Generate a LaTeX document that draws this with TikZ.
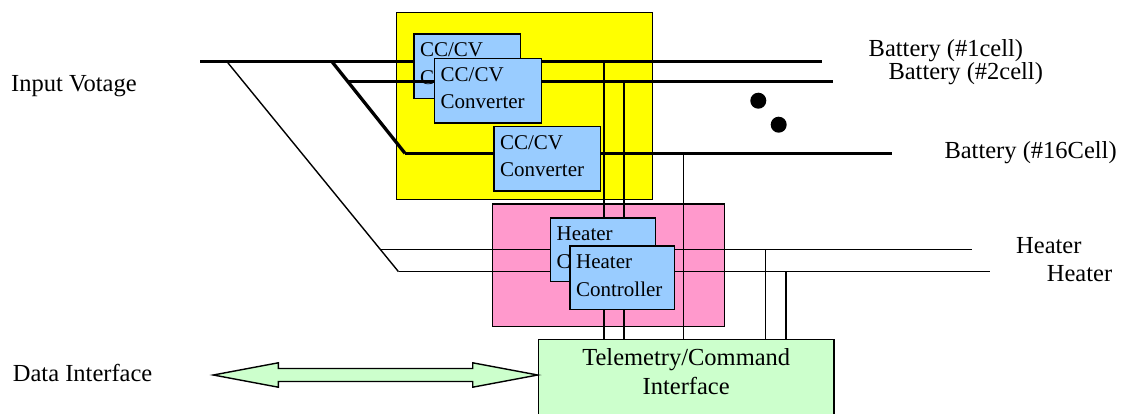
\documentclass[tikz,border=0pt]{standalone}
\usepackage{fontspec}
\setmainfont{Liberation Serif}
\definecolor{cvyellow}{HTML}{FFFF00}
\definecolor{cvblue}{HTML}{99CCFF}
\definecolor{cvpink}{HTML}{FF99CC}
\definecolor{cvgreen}{HTML}{CCFFCC}
\tikzset{
  outl/.style={draw=black, line width=1.4pt},
  areabox/.style={outl, anchor=north west, inner sep=0pt},
  unitbox/.style={outl, fill=cvblue, anchor=north west, inner xsep=6pt, inner ysep=8pt,
    text width=94.5pt, align=left, text height=15pt, text depth=33.5pt,
    font=\fontsize{21}{27.5}\selectfont},
  bus/.style={line width=3.3pt},
  wire/.style={line width=1.4pt},
  lbl/.style={anchor=base west, font=\fontsize{24.5}{29}\selectfont, inner sep=0pt},
  bigdot/.style={circle, fill=black, minimum size=16pt, inner sep=0pt},
}
\begin{document}
\begin{tikzpicture}[x=1pt,y=-1pt]
\useasboundingbox (0,0) rectangle (1122,414);
\clip (0,0) rectangle (1122,414);

% area boxes
\node[areabox, fill=cvyellow, minimum width=256pt, minimum height=187.3pt] (yel) at (395.7,11.7) {};
\node[areabox, fill=cvpink, minimum width=232.3pt, minimum height=122.4pt] (pnk) at (491.7,203.3) {};
\node[outl, fill=cvgreen, anchor=north west, inner xsep=6pt, inner ysep=0pt, text width=283.6pt,
  align=center, text height=25.3pt, text depth=100pt, font=\fontsize{24.5}{29}\selectfont]
  (tm) at (537.7,339) {Telemetry/Command\\Interface};

% junction coordinates
\coordinate (in1) at (200,61.7);
\coordinate (b1e) at (821.7,61.7);
\coordinate (j1) at (332,61.7);
\coordinate (j2) at (348,81.7);
\coordinate (b2e) at (833,81.7);
\coordinate (j3) at (405,153.3);
\coordinate (b16e) at (891.7,153.3);
\coordinate (t1) at (227,61.7);
\coordinate (t2) at (380.2,249.3);
\coordinate (t3) at (398.5,271.7);
\coordinate (h1e) at (971.7,249.3);
\coordinate (h2e) at (990,271.7);
\coordinate (v1) at (604,61.7);
\coordinate (v2) at (624,81.7);
\coordinate (v3) at (683.3,153.3);
\coordinate (v4) at (765.7,249.3);
\coordinate (v5) at (786,271.7);

% battery bus 1
\draw[bus] (in1) -- (b1e);
\node[unitbox, minimum width=106.7pt] (cv1) at (413.3,33.3) {CC/CV\\Converter};
% diagonal and bus 2
\draw[bus] (j1) -- (j3);
\draw[bus] (j2) -- (b2e);
\node[unitbox, minimum width=106pt] (cv2) at (434,57.7) {CC/CV\\Converter};
% bus 16
\draw[bus] (j3) -- (b16e);
\node[unitbox, minimum width=106.7pt] (cv3) at (493.3,125.7) {CC/CV\\Converter};

% heater wires
\draw[wire] (t1) -- (t3);
\draw[wire] (t2) -- (h1e);
\draw[wire] (t3) -- (h2e);

% telemetry taps
\draw[wire] (v1) -- (v1 |- tm.north);
\draw[wire] (v2) -- (v2 |- tm.north);
\draw[wire] (v3) -- (v3 |- tm.north);
\draw[wire] (v4) -- (v4 |- tm.north);
\draw[wire] (v5) -- (v5 |- tm.north);

% heater controllers
\node[unitbox, text width=92.5pt, minimum width=104pt, text depth=32.7pt] (hc1) at (550,217.3) {Heater\\Controller};
\node[unitbox, text width=92.5pt, minimum width=104.7pt, text depth=32.7pt] (hc2) at (569.3,245.3) {Heater\\Controller};

% dots
\node[bigdot] (d1) at (758.3,100.7) {};
\node[bigdot] (d2) at (778.7,124.7) {};

% labels
\node[lbl] (lin) at (11,91.7) {Input Votage};
\node[lbl] (lb1) at (868.5,56.7) {Battery (\#1cell)};
\node[lbl] (lb2) at (888.3,79.3) {Battery (\#2cell)};
\node[lbl] (lb16) at (944.3,158.3) {Battery (\#16Cell)};
\node[lbl] (lh1) at (1016,253.3) {Heater};
\node[lbl] (lh2) at (1046.7,281.7) {Heater};
\node[lbl] (ldi) at (12.7,381.7) {Data Interface};

% data interface double arrow
\coordinate (arrL) at (213.3,375);
\coordinate (arrR) at (tm.west |- arrL);
\draw[outl, fill=cvgreen, line join=miter]
  (arrL) -- ([shift={(65,-12.2)}]arrL) -- ([shift={(65,-6.5)}]arrL)
  -- ([shift={(-65,-6.5)}]arrR) -- ([shift={(-65,-12.2)}]arrR) -- (arrR)
  -- ([shift={(-65,12.2)}]arrR) -- ([shift={(-65,6.5)}]arrR)
  -- ([shift={(65,6.5)}]arrL) -- ([shift={(65,12.2)}]arrL) -- cycle;
\end{tikzpicture}
\end{document}
